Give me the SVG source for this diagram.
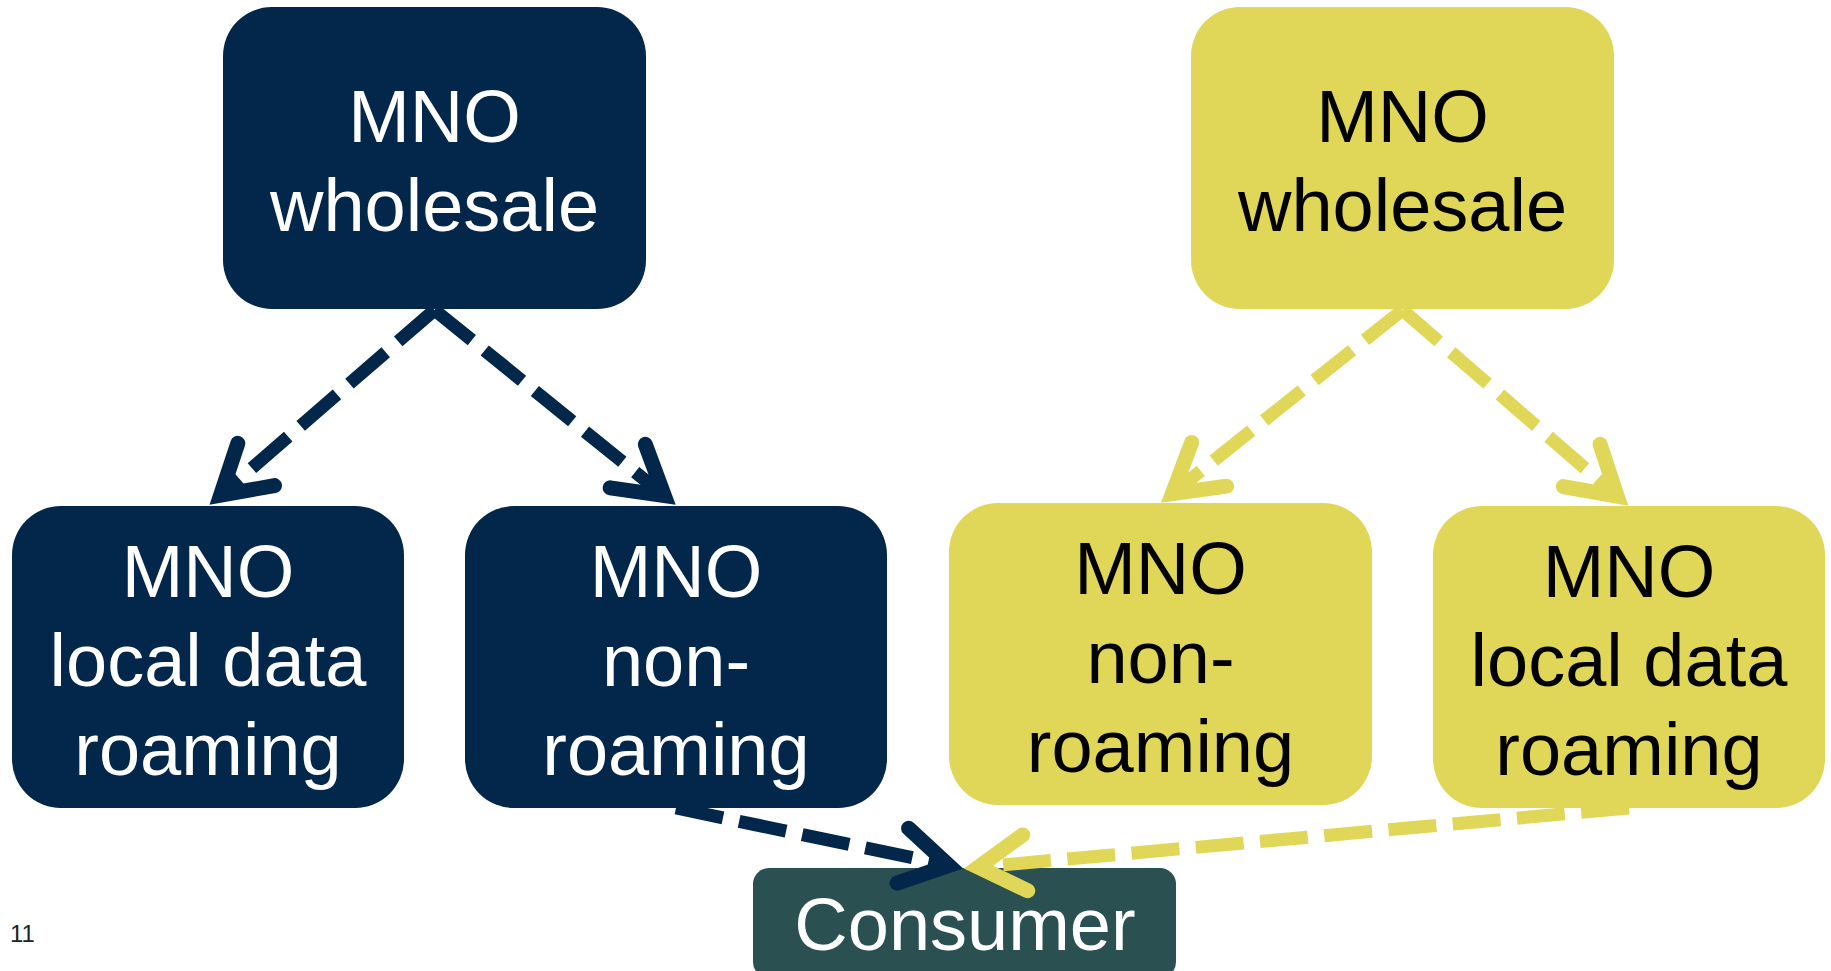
<svg xmlns="http://www.w3.org/2000/svg" width="1831" height="971" viewBox="0 0 1831 971">
  <style>
    .lbl { font-family: "Liberation Sans", Arial, Helvetica, sans-serif; font-size: 74px; text-anchor: middle; }
    .dark rect { fill: #02274A; }
    .dark text { fill: #FFFFFF; }
    .yel rect { fill: #E0D657; }
    .yel text { fill: #000000; }
    .cons rect { fill: #2B5052; }
    .cons text { fill: #FFFFFF; }
    .edge { fill: none; stroke-width: 13; stroke-dasharray: 48 16.5; }
    .edge.d { stroke: #02274A; marker-end: url(#headD); }
    .edge.y { stroke: #E0D657; marker-end: url(#headY); }
    .pg { font-family: "Liberation Sans", Arial, sans-serif; font-size: 24px; fill: #222222; }
  </style>
  <defs>
    <!-- open arrowheads: vertex at the path end, mitred tip points forward -->
    <marker id="headD" markerUnits="userSpaceOnUse" viewBox="-70 -45 100 90" markerWidth="100" markerHeight="90" refX="0" refY="0" orient="auto" overflow="visible">
      <path d="M-47,-28 L0,0 L-47,28" fill="none" stroke="#02274A" stroke-width="15" stroke-linecap="round" stroke-linejoin="miter"/>
    </marker>
    <marker id="headY" markerUnits="userSpaceOnUse" viewBox="-70 -45 100 90" markerWidth="100" markerHeight="90" refX="0" refY="0" orient="auto" overflow="visible">
      <path d="M-47,-28 L0,0 L-47,28" fill="none" stroke="#E0D657" stroke-width="15" stroke-linecap="round" stroke-linejoin="miter"/>
    </marker>
  </defs>

  <rect width="1831" height="971" fill="#FFFFFF"/>

  <!-- consumer sits under the incoming arrowheads -->
  <g id="consumer" class="cons">
    <rect x="753" y="868" width="423" height="110" rx="16" ry="16"/>
    <text class="lbl" x="965" y="950">Consumer</text>
  </g>

  <g id="connectors">
    <path class="edge d" d="M434.5,310 L220.6,495.2"/>
    <path class="edge d" d="M434.5,310 L664.3,495.6"/>
    <path class="edge y" d="M1402.5,310 L1172.4,493.6"/>
    <path class="edge y" d="M1402.5,310 L1617.2,496.2"/>
    <path class="edge d" d="M676,808 L948.8,865.4"/>
    <path class="edge y" d="M1629,808 L978.4,867.1"/>
  </g>

  <g id="wholesale-a" class="dark">
    <rect x="223" y="7" width="423" height="302" rx="49" ry="49"/>
    <text class="lbl" x="434.5" y="142">MNO</text>
    <text class="lbl" x="434.5" y="231">wholesale</text>
  </g>

  <g id="wholesale-b" class="yel">
    <rect x="1191" y="7" width="423" height="302" rx="49" ry="49"/>
    <text class="lbl" x="1402.5" y="142">MNO</text>
    <text class="lbl" x="1402.5" y="231">wholesale</text>
  </g>

  <g id="roaming-a" class="dark">
    <rect x="12" y="506" width="392" height="302" rx="49" ry="49"/>
    <text class="lbl" x="208" y="597">MNO</text>
    <text class="lbl" x="208" y="686">local data</text>
    <text class="lbl" x="208" y="775">roaming</text>
  </g>

  <g id="nonroaming-a" class="dark">
    <rect x="465" y="506" width="422" height="302" rx="49" ry="49"/>
    <text class="lbl" x="676" y="597">MNO</text>
    <text class="lbl" x="676" y="686">non-</text>
    <text class="lbl" x="676" y="775">roaming</text>
  </g>

  <g id="nonroaming-b" class="yel">
    <rect x="949" y="503" width="423" height="302" rx="49" ry="49"/>
    <text class="lbl" x="1160.5" y="594">MNO</text>
    <text class="lbl" x="1160.5" y="683">non-</text>
    <text class="lbl" x="1160.5" y="772">roaming</text>
  </g>

  <g id="roaming-b" class="yel">
    <rect x="1433" y="506" width="392" height="302" rx="49" ry="49"/>
    <text class="lbl" x="1629" y="597">MNO</text>
    <text class="lbl" x="1629" y="686">local data</text>
    <text class="lbl" x="1629" y="775">roaming</text>
  </g>

  <text class="pg" x="10" y="942">11</text>
</svg>
